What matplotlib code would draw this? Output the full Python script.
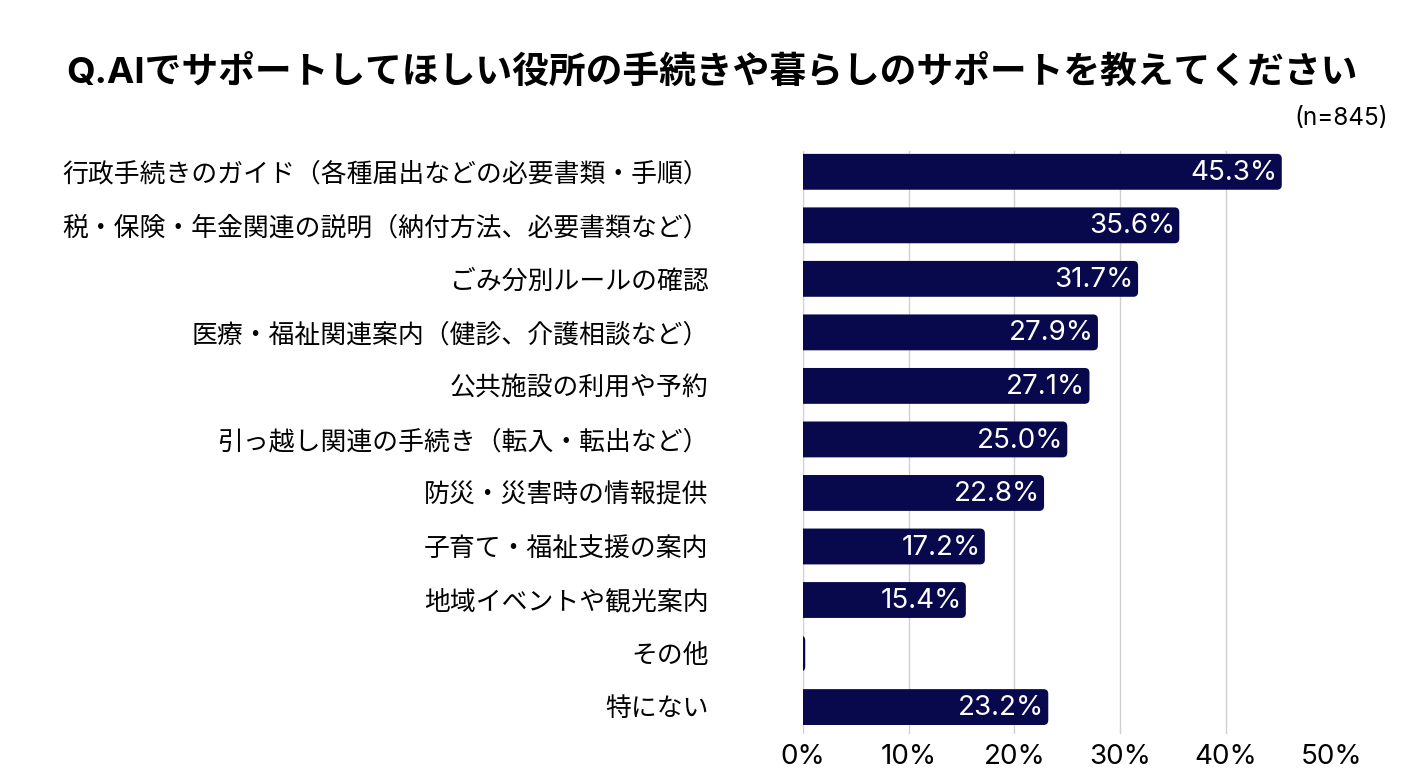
import numpy as np
import matplotlib
matplotlib.use("Agg")
import matplotlib.pyplot as plt
from matplotlib.patches import FancyBboxPatch

plt.rcParams['font.family'] = ['Inter', 'Noto Sans CJK JP', 'DejaVu Sans']

# dados
categorias = [
    "行政手続きのガイド（各種届出などの必要書類・手順）",
    "税・保険・年金関連の説明（納付方法、必要書類など）",
    "ごみ分別ルールの確認",
    "医療・福祉関連案内（健診、介護相談など）",
    "公共施設の利用や予約",
    "引っ越し関連の手続き（転入・転出など）",
    "防災・災害時の情報提供",
    "子育て・福祉支援の案内",
    "地域イベントや観光案内",
    "その他",
    "特にない",
]
valores = [45.3, 35.6, 31.7, 27.9, 27.1, 25.0, 22.8, 17.2, 15.4, 0.2, 23.2]
ticks_x = [0, 10, 20, 30, 40, 50]
titulo = "Q.AIでサポートしてほしい役所の手続きや暮らしのサポートを教えてください"
amostra = "(n=845)"

cor = "#08084c"

fig = plt.figure(figsize=(14.24, 7.84), dpi=100)
ax = fig.add_axes([0.564, 0.064, 0.371, 0.751])

y = np.arange(len(categorias))
barras = ax.barh(y, valores, height=0.67, color=cor)
ax.set_xlim(0, 50)
ax.set_ylim(len(categorias) - 0.5, -0.5)

# cantos arredondados só à direita (o lado esquerdo fica cortado pelo eixo)
for b in barras:
    b.set_visible(False)
    x0, y0 = b.get_x(), b.get_y()
    w, h = b.get_width(), b.get_height()
    ax.add_patch(FancyBboxPatch((x0 - 1, y0), w + 1, h,
                                boxstyle="round,pad=0,rounding_size=0.45",
                                mutation_aspect=0.2, facecolor=cor,
                                edgecolor="none", zorder=3))

# grade
for t in ticks_x[:-1]:
    ax.axvline(t, color="#d0d0d0", lw=1, zorder=1, ymax=0.99)

for yi, v in zip(y, valores):
    if v >= 1:
        ax.text(v - 0.4, yi + 0.02, "%.1f%%" % v, color="white", fontsize=20,
                ha="right", va="center", zorder=4)

ax.set_yticks(y)
ax.set_yticklabels(categorias, fontsize=18.6)
ax.set_xticks(ticks_x)
ax.set_xticklabels(["%d%%" % t for t in ticks_x], fontsize=20)
ax.tick_params(axis="y", length=0, pad=68)
ax.tick_params(axis="x", length=0, pad=7)
for s in ax.spines.values():
    s.set_visible(False)

fig.text(0.5, 0.908, titulo, fontsize=26.5, fontweight="bold", ha="center", va="center")
fig.text(0.975, 0.849, amostra, fontsize=17.5, ha="right", va="center")

fig.savefig("out.png", dpi=100, facecolor="white")
